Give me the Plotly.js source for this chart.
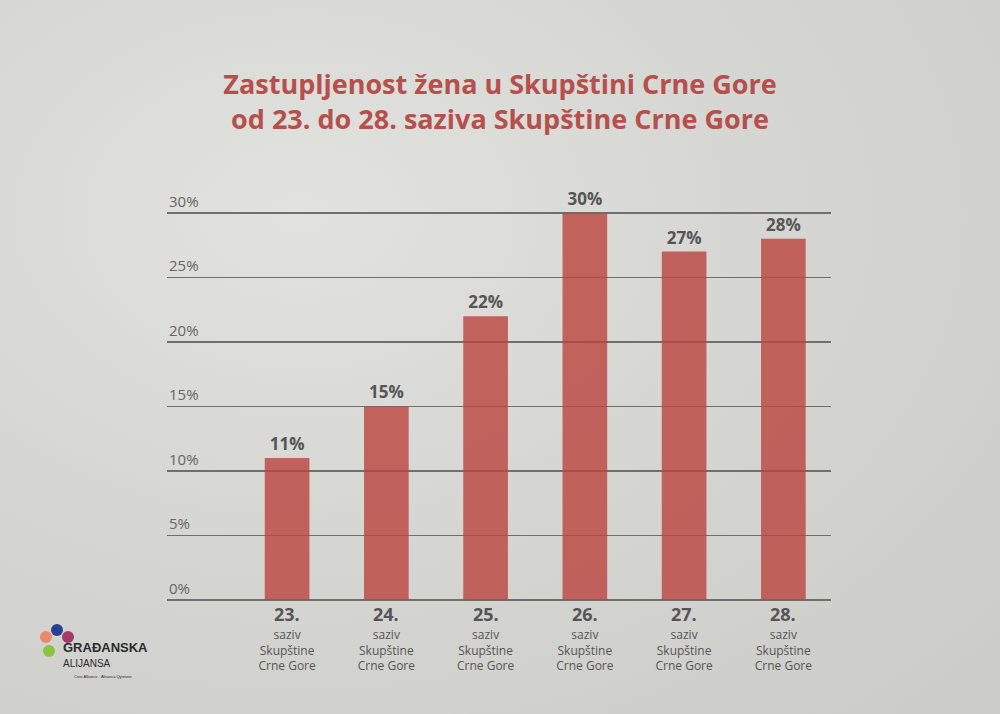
<!DOCTYPE html>
<html><head><meta charset="utf-8">
<script src="https://cdn.plot.ly/plotly-3.0.1.min.js"></script>
<style>
html,body{margin:0;padding:0;}
body{width:1000px;height:714px;overflow:hidden;
background: radial-gradient(ellipse at 30% 30%, #e2e2df 0%, #d6d6d3 45%, #cbcbc8 100%);}
#chart{width:1000px;height:714px;}
</style></head>
<body><div id="chart"></div>
<script>
const categories = ["23.", "24.", "25.", "26.", "27.", "28."];
const values = [11, 15, 22, 30, 27, 28];
const tickVals = [0, 5, 10, 15, 20, 25, 30];
const tickLabels = ["0%", "5%", "10%", "15%", "20%", "25%", "30%"];
const subLabel = "saziv<br>Skupštine<br>Crne Gore";

const xIdx = categories.map((c, i) => i);
const xTickText = categories.map(c => subLabel);

const trace = {
  type: 'bar', x: xIdx, y: values, width: 0.45,
  marker: {color: 'rgba(188,68,62,0.8)', line: {width: 0}},
  text: values.map(v => v + '%'), textposition: 'outside', cliponaxis: false,
  textfont: {family: 'Open Sans, sans-serif', size: 17, color: '#555555', weight: 700},
  hoverinfo: 'none'
};

function px2paperX(p){return (p-167)/664;}
function px2paperY(p){return (600-p)/400;}

const annotations = tickVals.map((v, i) => ({
  x: 0, xref: 'paper', y: v, yref: 'y', yshift: 12,
  text: tickLabels[i], showarrow: false, xanchor: 'left',
  font: {family: 'Open Sans, sans-serif', size: 15, color: '#666666'}
}));
categories.forEach((c, i) => annotations.push({
  x: i, xref: 'x', y: px2paperY(614), yref: 'paper', yanchor: 'middle',
  text: '<b>' + c + '</b>', showarrow: false,
  font: {family: 'Open Sans, sans-serif', size: 18, color: '#555555'}
}));
const logoTexts = [
  [61, 657, '<b>GRAĐANSKA</b>', 13],
  [61, 671, 'ALIJANSA', 10],
  [72, 681, 'Civic Alliance · Aleanca Qytetare', 4]
];
logoTexts.forEach(t => annotations.push({
  x: px2paperX(t[0]), y: px2paperY(t[1]), xref: 'paper', yref: 'paper', text: t[2],
  showarrow: false, xanchor: 'left', font: {family: 'Liberation Sans, sans-serif', size: t[3], color: '#2b2b2b'}
}));

const logoDots = [[46,637,'#e98a6f'],[57,630,'#2a3f92'],[68,637,'#a33a6a'],[49,651,'#8cc43f']];
const shapes = logoDots.map(d => ({
  type: 'circle', xref: 'paper', yref: 'paper',
  x0: px2paperX(d[0]-6), x1: px2paperX(d[0]+6), y0: px2paperY(d[1]+6), y1: px2paperY(d[1]-6),
  fillcolor: d[2], line: {width: 0}
}));

const layout = {
  width: 1000, height: 714,
  margin: {l: 167, r: 169, t: 200, b: 114},
  paper_bgcolor: 'rgba(0,0,0,0)', plot_bgcolor: 'rgba(0,0,0,0)',
  title: {text: 'Zastupljenost žena u Skupštini Crne Gore<br>od 23. do 28. saziva Skupštine Crne Gore',
    x: 0.5, xanchor: 'center', y: 0.868, yanchor: 'middle',
    font: {family: 'Open Sans, sans-serif', size: 27, color: '#b5504c', weight: 700}},
  xaxis: {range: [-1.21, 5.48], tickvals: xIdx, ticktext: xTickText, showgrid: false,
    zeroline: false, showline: false, ticks: '', fixedrange: true, ticklabelstandoff: 26,
    tickfont: {family: 'Open Sans, sans-serif', size: 12, color: '#555555'}},
  yaxis: {range: [0, 31], tickvals: tickVals, showticklabels: false, showgrid: true,
    gridcolor: '#6f6f6f', gridwidth: 1.5, zeroline: true, zerolinecolor: '#6f6f6f', zerolinewidth: 1.5,
    ticks: '', fixedrange: true},
  showlegend: false,
  annotations: annotations, shapes: shapes
};
Plotly.newPlot('chart', [trace], layout, {displayModeBar: false, staticPlot: true});
</script></body></html>
